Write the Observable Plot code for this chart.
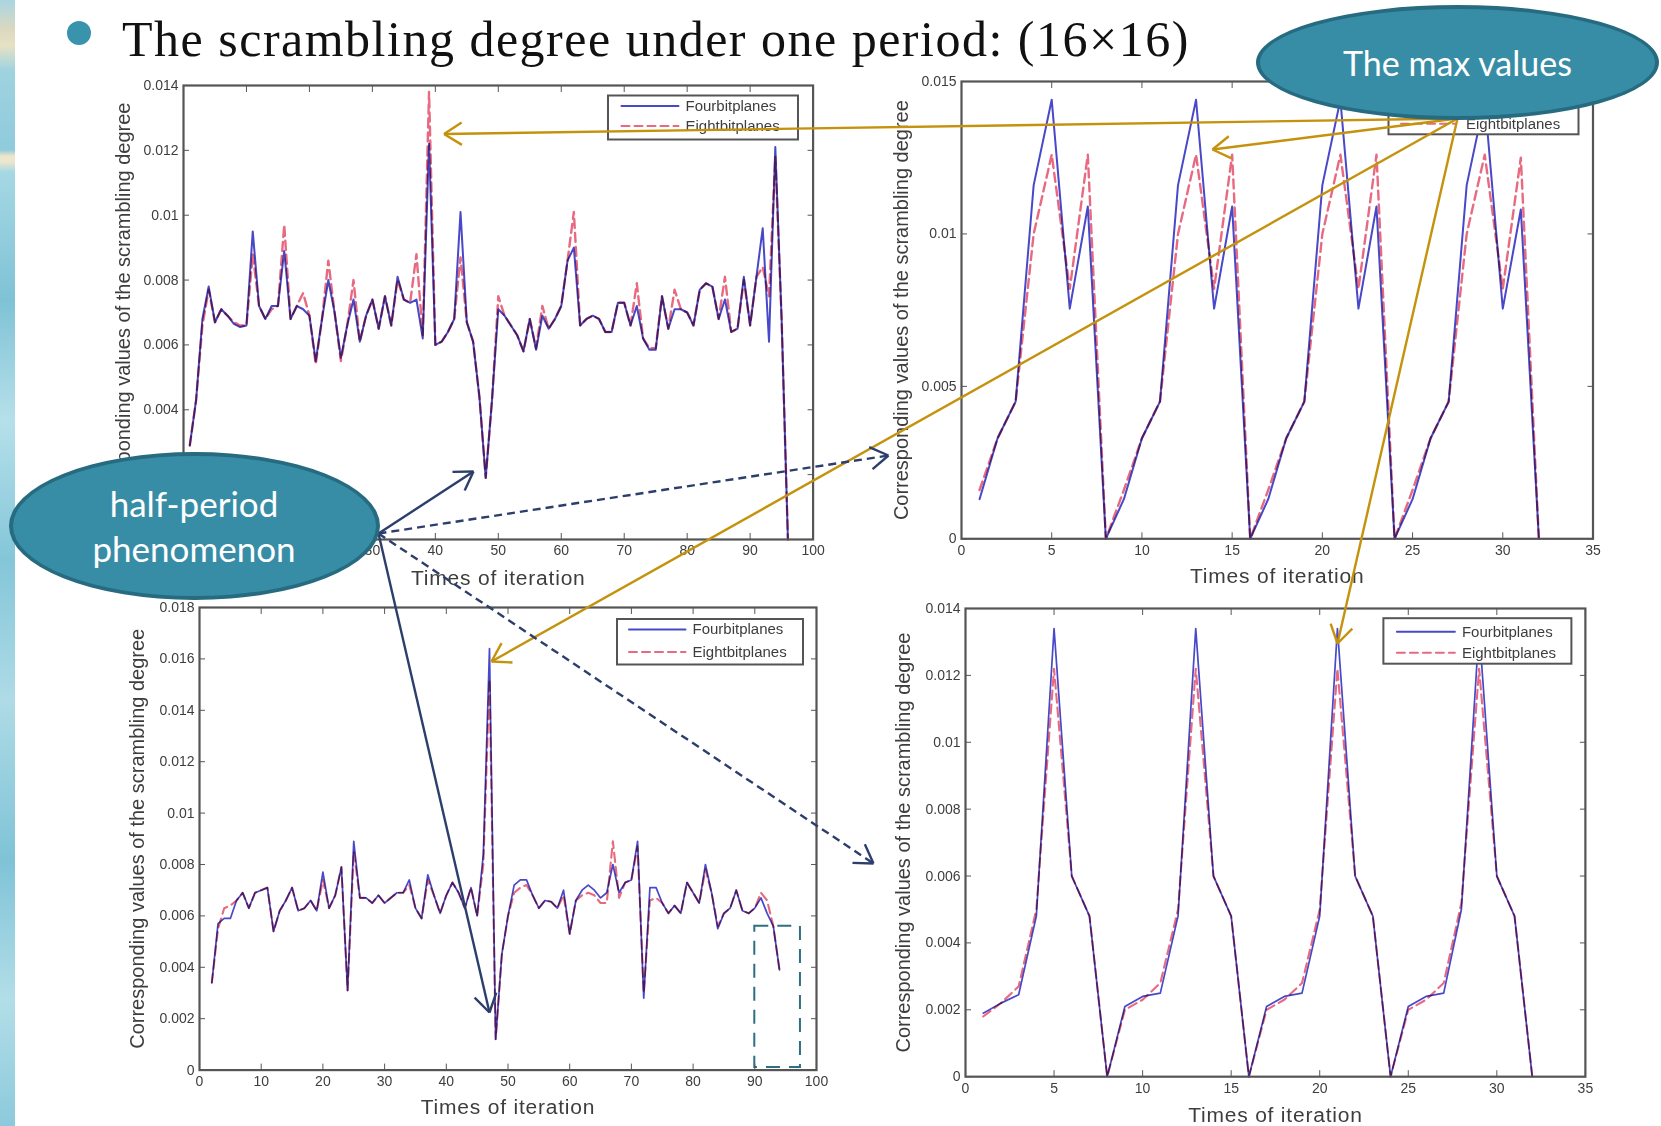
<!DOCTYPE html>
<html>
<head>
<meta charset="utf-8">
<script src="https://cdn.jsdelivr.net/npm/d3@7"></script>
<script src="https://cdn.jsdelivr.net/npm/@observablehq/plot@0.6"></script>
<style>
html,body{margin:0;padding:0;background:#fff;overflow:hidden}
#root{position:relative;width:1661px;height:1126px;overflow:hidden;background:#fff}
#strip{position:absolute;left:0;top:0;width:15px;height:1126px;
 background:linear-gradient(180deg,#a9d6e2 0,#d9d8c0 28px,#e6e2c4 46px,#9fd3e0 70px,#8fcbdc 150px,#ece6cc 156px,#ece6cc 162px,#a5d8e4 172px,#7fc2d6 300px,#b5e0ea 420px,#84c6d9 560px,#aedbe6 700px,#7fc3d7 860px,#b2dee8 1000px,#8ccadb 1126px)}
#bullet{position:absolute;left:67px;top:21px;width:24px;height:24px;border-radius:50%;background:#3a93ad}
#title{position:absolute;left:122px;top:3px;padding-top:2px;font:50px/68px "Liberation Serif",serif;color:#111;white-space:nowrap;letter-spacing:1.5px}
.panel{position:absolute;filter:blur(.75px)}
.ell{position:absolute;box-sizing:border-box;border-radius:50%;background:#388da6;border:4px solid #276b80;color:#fff;
 font-family:Lato,sans-serif;display:flex;align-items:center;justify-content:center;text-align:center}
</style>
</head>
<body>
<div id="root">
  <div id="strip"></div>
  <div id="bullet"></div>
  <div id="title">The scrambling degree under one period: (16×16)</div>
</div>
<script>
const seriesNames = ["Fourbitplanes", "Eightbitplanes"];
const xAxisLabel = "Times of iteration";
const yAxisLabel = "Corresponding values of the scrambling degree";

const ticksX100 = [0,10,20,30,40,50,60,70,80,90,100];
const ticksX35 = [0,5,10,15,20,25,30,35];
const ticksYA = [0,.002,.004,.006,.008,.01,.012,.014];
const ticksYB = [0,.005,.01,.015];
const ticksYC = [0,.002,.004,.006,.008,.01,.012,.014,.016,.018];
const ticksYD = [0,.002,.004,.006,.008,.01,.012,.014];

// Panel A: iterations 1..96
const fourA = [.0029,.0043,.0068,.0078,.0067,.0071,.0069,.00665,.00655,.0066,
 .0095,.0072,.0068,.0072,.0072,.0089,.0068,.0072,.0071,.0069,
 .0055,.0068,.0080,.0070,.0056,.0066,.0074,.0061,.0069,.0074,
 .0065,.0075,.0066,.0081,.0074,.0073,.0074,.0062,.0122,.0060,
 .0061,.0064,.0068,.0101,.0067,.0061,.0044,.0019,.0043,.0071,
 .0069,.0066,.0063,.0058,.0068,.00585,.0069,.0065,.0068,.0072,
 .0086,.0090,.0066,.0068,.0069,.0068,.0064,.0064,.0073,.0073,
 .0066,.0072,.0062,.00585,.00585,.0075,.0065,.0071,.0071,.0070,
 .0066,.0077,.0079,.0078,.0068,.0074,.0064,.0065,.0081,.0066,
 .0081,.0096,.0061,.0121,.0068,0];
const eightA = [.0029,.0043,.0066,.0077,.0067,.0071,.0069,.0067,.0066,.0066,
 .0088,.0072,.0068,.0071,.0072,.0097,.0068,.0072,.0076,.0069,
 .0054,.0068,.0086,.0070,.0055,.0066,.0080,.0061,.0069,.0074,
 .0065,.0075,.0066,.0080,.0074,.0073,.0088,.0063,.0138,.0060,
 .0061,.0064,.0068,.0087,.0067,.0061,.0044,.0019,.0043,.0075,
 .0069,.0066,.0063,.0058,.0068,.0059,.0072,.0065,.0068,.0072,
 .0086,.0101,.0066,.0068,.0069,.0068,.0064,.0064,.0073,.0073,
 .0066,.0079,.0062,.0059,.0059,.0075,.0065,.0077,.0071,.0070,
 .0066,.0077,.0079,.0078,.0068,.0081,.0064,.0065,.0080,.0066,
 .0081,.0084,.0075,.0118,.0068,0];

// Panel B: iterations 1..32
const fourB = [.0013,.0033,.0045,.0116,.0144,.00755,.0109,0,
 .0013,.0033,.0045,.0116,.0144,.00755,.0109,0,
 .0013,.0033,.0045,.0116,.0144,.00755,.0109,0,
 .0013,.0033,.0045,.0116,.0144,.00755,.0108,0];
const eightB = [.0016,.0033,.0045,.0100,.0126,.0082,.0126,0,
 .0016,.0033,.0045,.0100,.0126,.0082,.0126,0,
 .0016,.0033,.0045,.0100,.0126,.0082,.0126,0,
 .0016,.0033,.0045,.0100,.0126,.0082,.0125,0];

// Panel C: iterations 2..94
const fourC = [.0034,.0057,.0059,.0059,.0066,.0069,.0063,.0069,.0070,
 .0071,.0054,.0062,.0066,.0071,.0062,.0063,.0066,.0062,.0077,
 .0063,.0068,.0079,.0031,.0089,.0067,.0067,.0065,.0068,.0065,
 .0067,.0069,.0069,.0074,.0063,.0059,.0076,.0068,.0061,.0068,
 .0073,.0069,.0063,.0071,.0060,.0084,.0164,.0012,.0045,.0060,
 .0072,.0074,.0074,.0068,.0063,.0066,.00655,.0063,.0070,.0053,
 .0066,.0070,.0072,.0070,.0067,.0069,.0080,.0069,.0073,.0074,
 .0089,.0028,.0071,.0071,.0065,.0061,.0064,.0061,.0073,.0069,
 .0065,.0080,.0069,.0055,.0061,.0063,.0070,.0062,.0061,.0063,
 .0067,.0061,.0056,.0039];
const eightC = [.0034,.0055,.0063,.0064,.0066,.0069,.0063,.0069,.0070,
 .0071,.0054,.0062,.0066,.0071,.0062,.0063,.0066,.0062,.0074,
 .0063,.0068,.0079,.0031,.0085,.0067,.0067,.0065,.0068,.0065,
 .0067,.0069,.0069,.0072,.0063,.0059,.0074,.0068,.0061,.0068,
 .0073,.0069,.0063,.0071,.0060,.0080,.0152,.0012,.0045,.0060,
 .0069,.0071,.0072,.0068,.0063,.0066,.00655,.0063,.0068,.0053,
 .0066,.0068,.0069,.0068,.0065,.0065,.0089,.0067,.0073,.0074,
 .0087,.0030,.0066,.0067,.0065,.0061,.0064,.0061,.0073,.0069,
 .0065,.0078,.0069,.0056,.0061,.0063,.0070,.0062,.0061,.0063,
 .0069,.0066,.0056,.0039];

// Panel D: iterations 1..32
const fourD = [.0019,.0022,.00245,.0048,.0134,.0060,.0048,0,
 .0021,.0024,.0025,.0048,.0134,.0060,.0048,0,
 .0021,.0024,.0025,.0048,.0134,.0060,.0048,0,
 .0021,.0024,.0025,.0050,.0134,.0060,.0048,0];
const eightD = [.0018,.0022,.0027,.0050,.0122,.0060,.0048,0,
 .0020,.0023,.0028,.0050,.0122,.0060,.0048,0,
 .0020,.0023,.0028,.0050,.0122,.0060,.0048,0,
 .0020,.0023,.0028,.0052,.0122,.0060,.0048,0];

// Annotation arrows in page pixels
const goldOrigin = [1457, 118];
const navyOrigin = [378, 533];
const goldTips = [[443.5,133.5],[1212,149],[491,661],[1337,643]];
const navySolidTips = [[473,471],[489,1012]];
const navyDashedTips = [[888,455],[873,863]];

const BLUE = "#4848c8", RED = "#e86a80", INK = "#555", TXT = "#3d3d3d";
const FONT = "Liberation Sans, sans-serif";
const root = document.getElementById("root");

function panel(o) {
  const mL = 85, mR = 12, mT = 12, mB = 60;
  const w = o.right - o.left, h = o.bottom - o.top;
  const X = px => o.xd[0] + (px - o.left) / w * (o.xd[1] - o.xd[0]);
  const Y = px => o.yd[1] - (px - o.top) / h * (o.yd[1] - o.yd[0]);
  const idx = a => a.map((v, i) => ({x: i + o.first, v}));
  const lg = o.legend;
  const sw = o.lw || 2;
  const rows = [{y: lg.y1, n: seriesNames[0], c: BLUE, dash: null},
                {y: lg.y2, n: seriesNames[1], c: RED, dash: "8 5"}];
  const chart = Plot.plot({
    width: w + mL + mR, height: h + mT + mB,
    marginLeft: mL, marginRight: mR, marginTop: mT, marginBottom: mB,
    style: {background: "transparent", fontFamily: FONT},
    x: {domain: o.xd, label: null},
    y: {domain: o.yd, label: null},
    marks: [
      Plot.line(idx(o.four), {x: "x", y: "v", stroke: BLUE, strokeWidth: sw, curve: "linear"}),
      Plot.line(idx(o.eight), {x: "x", y: "v", stroke: RED, strokeWidth: sw + .4, strokeDasharray: "9 5", mixBlendMode: "multiply"}),
      ...(o.extra || []),
      Plot.rect([0], {x1: X(lg.x1), x2: X(lg.x2), y1: Y(lg.top), y2: Y(lg.bot), fill: "#fff", stroke: INK, strokeWidth: 2}),
      ...rows.map(r => Plot.line([[X(lg.s1), Y(r.y)], [X(lg.s2), Y(r.y)]], {stroke: r.c, strokeWidth: 2, strokeDasharray: r.dash})),
      Plot.text(rows, {x: X(lg.t), y: r => Y(r.y), text: "n", textAnchor: "start", fontSize: 15, fill: TXT}),
      Plot.axisX({anchor: "bottom", ticks: o.xt, tickSize: -6, tickPadding: 12, fontSize: 14, fill: TXT, stroke: INK,
        tickFormat: d => String(d), label: xAxisLabel, labelAnchor: "center", labelArrow: "none", labelOffset: o.xo}),
      Plot.axisX({anchor: "top", ticks: o.xt, tickSize: -6, fill: "none", label: null, stroke: INK}),
      Plot.axisY({anchor: "left", ticks: o.yt, tickSize: -6, tickPadding: 11, fontSize: 14, fill: TXT, stroke: INK,
        tickFormat: d => String(d), label: yAxisLabel, labelAnchor: "center", labelArrow: "none", labelOffset: o.yo}),
      Plot.axisY({anchor: "right", ticks: o.yt, tickSize: -6, fill: "none", label: null, stroke: INK}),
      Plot.frame({stroke: INK, strokeWidth: 2.2})
    ]
  });
  chart.classList.add("panel");
  chart.style.left = (o.left - mL) + "px";
  chart.style.top = (o.top - mT) + "px";
  chart.style.overflow = "visible";
  // axis titles share the tick labels' mark; enlarge just the title text
  chart.querySelectorAll("text").forEach(t => {
    if (t.textContent === xAxisLabel) {
      t.setAttribute("font-size", 21); t.style.fontSize = "21px"; t.style.letterSpacing = ".8px"; t.setAttribute("fill", TXT);
    }
    if (t.textContent === yAxisLabel) {
      t.setAttribute("font-size", 20); t.style.fontSize = "20px"; t.setAttribute("fill", TXT);
    }
  });
  root.appendChild(chart);
}

panel({left: 183, right: 812.6, top: 84.5, bottom: 538.5, first: 1, xd: [0, 100], yd: [0, .014],
  xt: ticksX100, yt: ticksYA, four: fourA, eight: eightA, xo: 46, yo: 68,
  legend: {x1: 608, x2: 798, top: 95, bot: 139, y1: 105, y2: 125, s1: 621, s2: 678, t: 685}});
panel({left: 960.5, right: 1592, top: 80.7, bottom: 538, first: 1, xd: [0, 35], yd: [0, .015],
  xt: ticksX35, yt: ticksYB, four: fourB, eight: eightB, xo: 44, yo: 68,
  legend: {x1: 1388, x2: 1578, top: 88, bot: 134, y1: 102, y2: 123, s1: 1400, s2: 1455, t: 1465}});
panel({left: 199, right: 816, top: 607, bottom: 1069.6, first: 2, xd: [0, 100], yd: [0, .018], lw: 1.7,
  xt: ticksX100, yt: ticksYC, four: fourC, eight: eightC, xo: 44, yo: 70,
  legend: {x1: 617, x2: 803, top: 619, bot: 664.5, y1: 629, y2: 651.5, s1: 628.5, s2: 685, t: 692},
  extra: [Plot.rect([0], {x1: 90, x2: 97.4, y1: .0001, y2: .0056, fill: "none", stroke: "#2f6f84", strokeWidth: 2, strokeDasharray: "14 9"})]});
panel({left: 964.6, right: 1584.5, top: 607.8, bottom: 1076, first: 1, xd: [0, 35], yd: [0, .014], lw: 1.7,
  xt: ticksX35, yt: ticksYD, four: fourD, eight: eightD, xo: 45, yo: 70,
  legend: {x1: 1383, x2: 1571, top: 618, bot: 663.5, y1: 631, y2: 652, s1: 1396, s2: 1454, t: 1461}});

// Arrow shaft + open V head, drawn in page pixels through Plot's own scales
function arrowParts(from, tip, head = 21, spread = 32) {
  const a = Math.atan2(from[1] - tip[1], from[0] - tip[0]);
  const r = spread * Math.PI / 180;
  return [-1, 1].map(s => ({
    x1: tip[0], y1: tip[1],
    x2: tip[0] + head * Math.cos(a + s * r),
    y2: tip[1] + head * Math.sin(a + s * r)
  }));
}
const shafts = (from, tips) => tips.map(t => ({x1: from[0], y1: from[1], x2: t[0], y2: t[1]}));
const wings = (from, tips) => tips.flatMap(t => arrowParts(from, t));
const link = (d, c, w, dash) => Plot.link(d, {x1: "x1", y1: "y1", x2: "x2", y2: "y2", stroke: c, strokeWidth: w, strokeDasharray: dash});

const GOLD = "#c4920c", NAVY = "#2c3e6b";
const overlay = Plot.plot({
  width: 1661, height: 1126, margin: 0,
  style: {background: "transparent"},
  x: {domain: [0, 1661], range: [0, 1661], axis: null},
  y: {domain: [0, 1126], range: [0, 1126], axis: null},
  marks: [
    link(shafts(goldOrigin, goldTips), GOLD, 2.4),
    link(wings(goldOrigin, goldTips), GOLD, 2.4),
    link(shafts(navyOrigin, navySolidTips), NAVY, 2.4),
    link(wings(navyOrigin, navySolidTips), NAVY, 2.4),
    link(shafts(navyOrigin, navyDashedTips), NAVY, 2.4, "8 5"),
    link(wings(navyOrigin, navyDashedTips), NAVY, 2.4)
  ]
});
overlay.style.position = "absolute";
overlay.style.left = "0"; overlay.style.top = "0";
root.appendChild(overlay);

function ellipse(l, t, w, h, size, html) {
  const e = document.createElement("div");
  e.className = "ell";
  e.style.cssText = `left:${l}px;top:${t}px;width:${w}px;height:${h}px;font-size:${size}px;line-height:45px`;
  e.innerHTML = html;
  root.appendChild(e);
}
ellipse(8.5, 452, 371, 148, 35, "half-period<br>phenomenon");
ellipse(1256, 5, 403, 115, 34, "The max values");
</script>
</body>
</html>
